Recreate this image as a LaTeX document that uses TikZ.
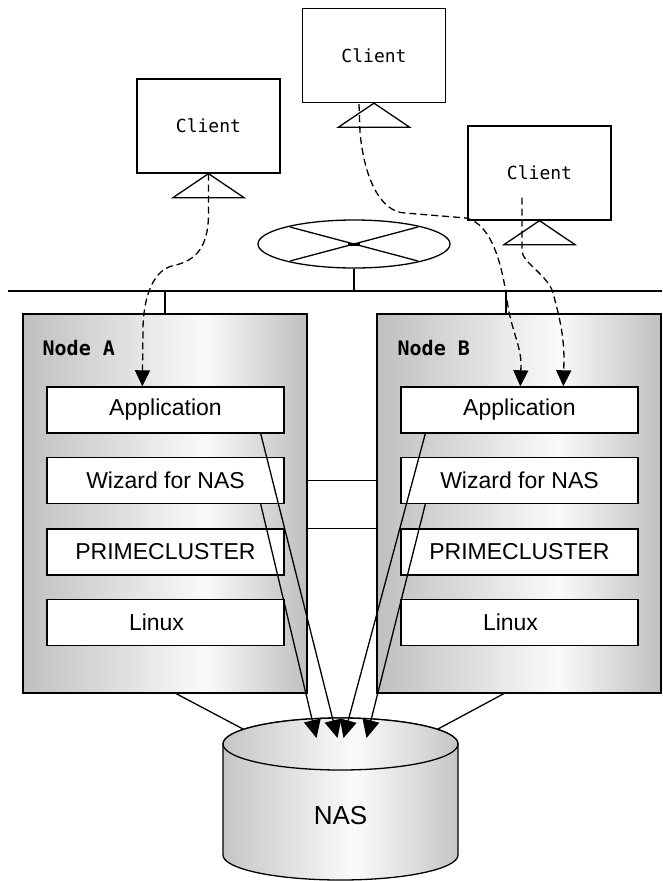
\documentclass[tikz,border=0pt]{standalone}
\usepackage{fontspec}
\setmainfont{Liberation Sans}
\newfontfamily\monofont{DejaVu Sans Mono}
\usetikzlibrary{arrows.meta,positioning,calc,shapes.geometric}

\pgfdeclarehorizontalshading{nodeshade}{100bp}{color(0bp)=(gray!50); color(25bp)=(gray!50); color(57bp)=(gray!4); color(75bp)=(gray!50); color(100bp)=(gray!50)}
\pgfdeclarehorizontalshading{nasshade}{100bp}{color(0bp)=(gray!45); color(25bp)=(gray!45); color(53bp)=(gray!3); color(75bp)=(gray!45); color(100bp)=(gray!45)}

\begin{document}
\begin{tikzpicture}[x=1pt,y=-1pt,line width=1.3pt,
    client/.style={draw,fill=white,minimum width=143pt,minimum height=94pt,inner sep=0pt,font=\monofont\fontsize{18}{18}\selectfont},
    host/.style={draw,line width=1.4pt,shade,shading=nodeshade,minimum width=284pt,minimum height=379pt},
    layer/.style={draw,line width=1.4pt,fill=white,minimum width=237pt,minimum height=46pt,inner sep=0pt,font=\fontsize{23}{23}\selectfont},
    hostlabel/.style={anchor=west,inner sep=0pt,font=\monofont\bfseries\fontsize{20}{20}\selectfont},
    dasharr/.style={dash pattern=on 7pt off 4pt,-{Triangle[length=16pt,width=15pt]}},
    nasarr/.style={-{Triangle[length=18pt,width=17pt]}}]
    \useasboundingbox[fill=white] (0,0) rectangle (662,881);

    % Clients
    \node[client] (cli1) at (208.5,126) {Client};
    \node[client] (cli2) at (374,55.5) {Client};
    \node[client] (cli3) at (539.5,173) {Client};
    \foreach \c in {cli1,cli2,cli3}
        \draw (\c.south) -- ++(-35.5,24) -- ++(71,0) -- cycle;

    % Network
    \node[draw,ellipse,minimum width=192pt,minimum height=48pt,inner sep=0pt] (net) at (354,244) {};
    \draw (net.center) ++(-64,-17) -- ++(128,34);
    \draw (net.center) ++(-64,17) -- ++(128,-34);
    \fill (net.center) ++(-6,-1.5) rectangle ++(12,3);

    \coordinate (busL) at (8,291);
    \coordinate (busR) at (662,291);
    \draw (busL) -- (busR);
    \draw (net.south) -- (net.south |- busL);

    % Cluster nodes
    \node[host] (nodeA) at (165,503.5) {};
    \node[host] (nodeB) at (519,503.5) {};
    \draw (nodeA.north) -- (nodeA.north |- busL);
    \coordinate (tapB) at (506,291);
    \draw (tapB) -- (tapB |- nodeB.north);

    \node[hostlabel] (labA) at (42,348) {Node A};
    \node[hostlabel] (labB) at (397,348) {Node B};

    \foreach \h/\x in {A/165.5,B/519.5} {
        \node[layer] (app\h) at (\x,410) {Application};
        \node[layer] (wiz\h) at (\x,480.5) {Wizard for NAS};
        \node[layer] (prime\h) at (\x,552) {PRIMECLUSTER};
        \node[layer] (linux\h) at (\x,622.5) {Linux\kern18pt};
    }

    \draw (nodeA.east |- wizA) -- (nodeB.west |- wizB);
    \draw (nodeA.east |- primeA.north) -- (nodeB.west |- primeB.north);

    % NAS
    \coordinate (nasTop) at (340.5,744);
    \coordinate (nasL) at (243,729);
    \coordinate (nasR) at (438,729);
    \draw ($(nodeA.south west)+(154,0)$) -- (nasL);
    \draw ($(nodeB.south east)+(-158,0)$) -- (nasR);
    \shadedraw[shading=nasshade] (223,744) -- (223,855) arc[start angle=180,end angle=0,x radius=117.5,y radius=25]
        -- (458,744) arc[start angle=0,end angle=-180,x radius=117.5,y radius=26] -- cycle;
    \shadedraw[shading=nasshade] (nasTop) ellipse[x radius=117.5,y radius=26];
    \node[font=\fontsize{26}{26}\selectfont] (nas) at (340.5,816) {NAS};

    \draw[nasarr] ($(appA.south east)+(-24,0)$) -- ($(nasTop)+(-3,-6)$);
    \draw[nasarr] ($(wizA.south east)+(-24,0)$) -- ($(nasTop)+(-24,-6)$);
    \draw[nasarr] ($(appB.south west)+(25,0)$) -- ($(nasTop)+(3,-6)$);
    \draw[nasarr] ($(wizB.south west)+(25,0)$) -- ($(nasTop)+(26,-6)$);

    % Client sessions
    \coordinate (inA) at ($(appA.north west)+(96,0)$);
    \coordinate (inB1) at ($(appB.north west)+(120,0)$);
    \coordinate (inB2) at ($(appB.north west)+(163,0)$);
    \draw[dasharr] (cli1.south) -- ++(0,40) .. controls +(0,40) and (190,262) .. (172,266)
        .. controls (152,271) and (143,300) .. (143,330) -- (inA);
    \draw[dasharr] ($(cli2.south)+(-15,1)$) -- ++(1,28) .. controls +(4,45) and (380,212) .. (405,213)
        -- (466,218) .. controls (492,224) and (502,265) .. (507,300)
        .. controls (511,330) and (521,345) .. (521,365) -- (inB1);
    \draw[dasharr] ($(cli3.south)+(-17.5,-23)$) -- ++(0,53) .. controls +(0,12) and (548,275) .. (553,293)
        .. controls (559,315) and (564,335) .. (564,360) -- (inB2);
\end{tikzpicture}
\end{document}
